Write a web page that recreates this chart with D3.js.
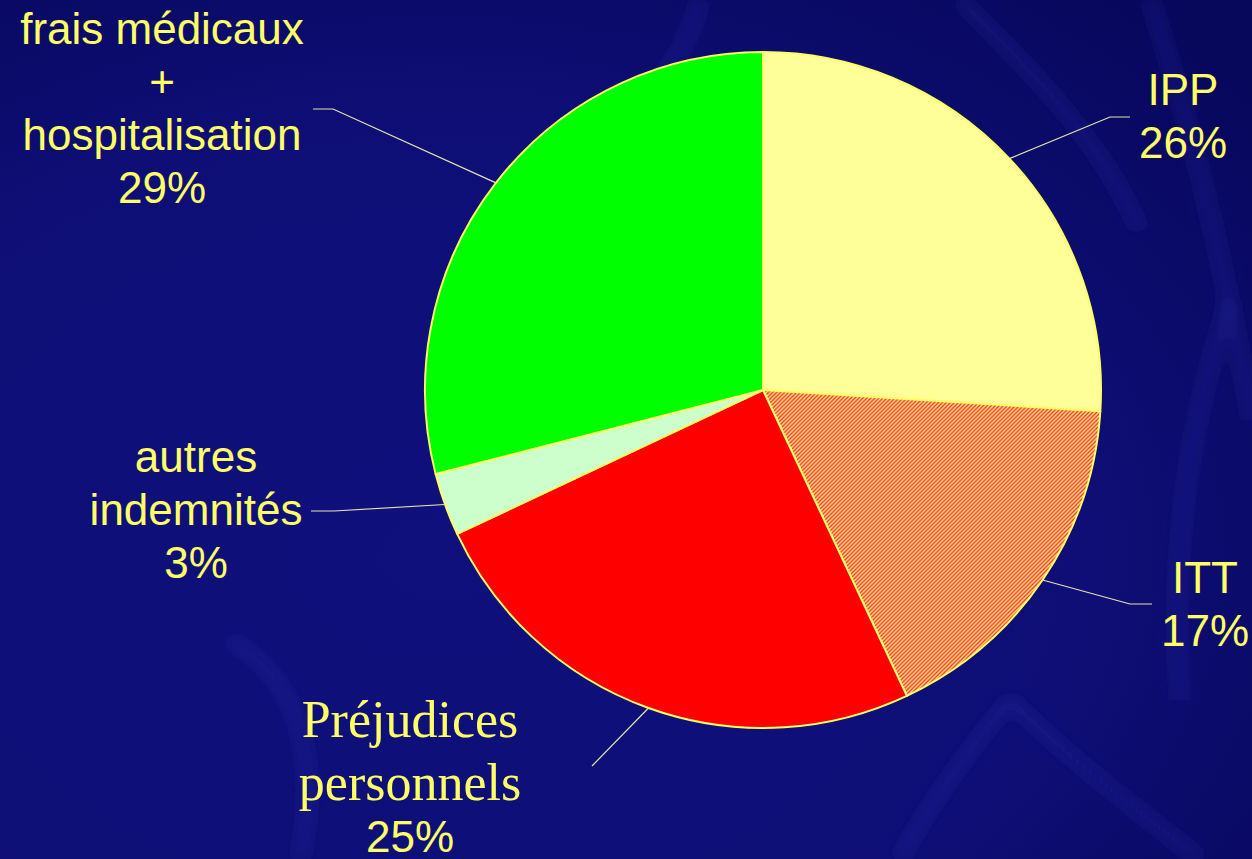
<!DOCTYPE html>
<html>
<head>
<meta charset="utf-8">
<script src="https://cdn.jsdelivr.net/npm/d3@7"></script>
<style>
  html, body { margin: 0; padding: 0; background: #0f0f7a; overflow: hidden; }
  svg { display: block; }
</style>
</head>
<body>
<svg width="1252" height="859"></svg>
<script>
// data
var categories = ["IPP", "ITT", "Préjudices personnels", "autres indemnités", "frais médicaux + hospitalisation"];
var values = [26, 17, 25, 3, 29];
var labelLines = [["IPP"], ["ITT"], ["Préjudices", "personnels"], ["autres", "indemnités"], ["frais médicaux", "+", "hospitalisation"]];
var colors = ["#ffff99", "url(#hatch)", "#ff0000", "#ccffcc", "#00ff00"];

// where each label sits (layout, not data)
var labelPos = [
  {x: 1183, y: 105, serif: false, elbow: [1110, 117], end: [1130, 117]},
  {x: 1205, y: 593, serif: false, elbow: [1130, 604], end: [1152, 604]},
  {x: 410, y: 737, serif: true, elbow: [592, 766], end: null},
  {x: 196, y: 472, serif: false, elbow: [334, 511], end: [311, 511]},
  {x: 162, y: 44, serif: false, elbow: [333, 109], end: [313, 109]}
];

var svg = d3.select("svg"),
    width = +svg.attr("width"),
    height = +svg.attr("height");

var defs = svg.append("defs");

var bg = defs.append("radialGradient").attr("id", "bg")
    .attr("cx", "35%").attr("cy", "65%").attr("r", "85%");
bg.append("stop").attr("offset", "0%").attr("stop-color", "#10107d");
bg.append("stop").attr("offset", "60%").attr("stop-color", "#0e0e76");
bg.append("stop").attr("offset", "100%").attr("stop-color", "#07075c");

var hatch = defs.append("pattern").attr("id", "hatch")
    .attr("patternUnits", "userSpaceOnUse")
    .attr("width", 4).attr("height", 4);
hatch.append("rect").attr("width", 4).attr("height", 4).attr("fill", "#ffd780");
hatch.append("path")
    .attr("d", "M-1,1 l2,-2 M0,4 l4,-4 M3,5 l2,-2")
    .attr("stroke", "#f4452e").attr("stroke-width", 1.4);

defs.append("filter").attr("id", "blur")
  .append("feGaussianBlur").attr("stdDeviation", 7);

svg.append("rect").attr("width", width).attr("height", height).attr("fill", "url(#bg)");

// faint swirls of the slide background
var swirls = [
  "M700,0 C690,40 670,70 650,90",
  "M230,640 C300,680 320,760 300,859",
  "M1010,700 C960,760 920,820 900,859",
  "M1010,700 C1070,760 1150,820 1200,859",
  "M1150,0 C1200,150 1230,300 1252,420",
  "M1230,300 C1190,420 1170,540 1180,700",
  "M960,0 C1040,80 1100,140 1140,230"
];
svg.append("g").attr("filter", "url(#blur)")
  .selectAll("path").data(swirls).enter().append("path")
    .attr("d", function(d) { return d; })
    .attr("fill", "none")
    .attr("stroke", "#3030a8")
    .attr("stroke-opacity", 0.3)
    .attr("stroke-width", 14);

var cx = 763, cy = 390, r = 338;

var pie = d3.pie().sort(null).value(function(d) { return d; });
var arcs = pie(values);
var arc = d3.arc().innerRadius(0).outerRadius(r);
var edge = d3.arc().innerRadius(r).outerRadius(r);

var g = svg.append("g").attr("transform", "translate(" + cx + "," + cy + ")");

g.selectAll("path.slice").data(arcs).enter().append("path")
    .attr("class", "slice")
    .attr("d", arc)
    .attr("fill", function(d, i) { return colors[i]; })
    .attr("stroke", "#ffff66")
    .attr("stroke-width", 2)
    .attr("stroke-linejoin", "round");

// leader lines
svg.append("g").selectAll("polyline").data(arcs).enter().append("polyline")
    .attr("fill", "none")
    .attr("stroke", "#e4e4b0")
    .attr("stroke-width", 1.2)
    .attr("points", function(d, i) {
      var c = edge.centroid(d), p = labelPos[i];
      var pts = [[cx + c[0], cy + c[1]], p.elbow];
      if (p.end) pts.push(p.end);
      return pts.map(function(q) { return q.join(","); }).join(" ");
    });

// labels
var lab = svg.append("g").selectAll("g").data(arcs).enter().append("g");
lab.each(function(d, i) {
  var p = labelPos[i], lines = labelLines[i], t = d3.select(this);
  var step = p.serif ? 63 : 53;
  lines.forEach(function(s, k) {
    t.append("text")
      .attr("x", p.x).attr("y", p.y + k * step)
      .attr("text-anchor", "middle")
      .attr("fill", "#ffff66")
      .style("font-family", p.serif ? "'Liberation Serif', 'Times New Roman', serif" : "'Liberation Sans', Arial, sans-serif")
      .style("font-size", p.serif ? "52px" : "44px")
      .text(s);
  });
  t.append("text")
    .attr("x", p.x).attr("y", p.y + lines.length * step + (p.serif ? -11 : 0))
    .attr("text-anchor", "middle")
    .attr("fill", "#ffff66")
    .style("font-family", "'Liberation Sans', Arial, sans-serif")
    .style("font-size", "44px")
    .text(d3.format(".0f")(d.value) + "%");
});
</script>
</body>
</html>
